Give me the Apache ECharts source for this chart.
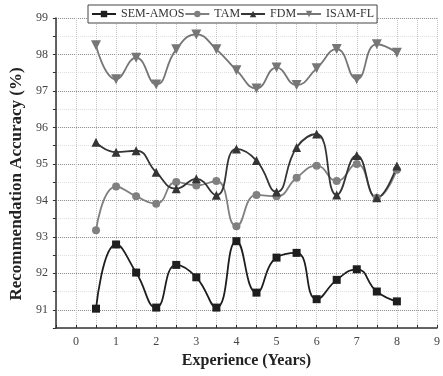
<!DOCTYPE html>
<html><head><meta charset="utf-8">
<script src="https://cdn.jsdelivr.net/npm/echarts@6/dist/echarts.min.js"></script>
<style>html,body{margin:0;padding:0;background:#fff}#c{width:443px;height:376px}</style>
</head><body><div id="c"></div>
<script>
const experience = [0.5,1,1.5,2,2.5,3,3.5,4,4.5,5,5.5,6,6.5,7,7.5,8];
const semAmos = [91.03,92.79,92.02,91.06,92.23,91.89,91.06,92.88,91.47,92.43,92.56,91.29,91.82,92.11,91.50,91.23];
const tam     = [93.18,94.38,94.11,93.91,94.50,94.41,94.53,93.29,94.15,94.11,94.62,94.95,94.53,95.00,94.07,94.84];
const fdm     = [95.59,95.32,95.36,94.77,94.32,94.59,94.14,95.41,95.09,94.23,95.45,95.82,94.15,95.23,94.07,94.94];
const isamFl  = [98.25,97.32,97.91,97.18,98.14,98.55,98.14,97.57,97.07,97.64,97.16,97.62,98.15,97.32,98.28,98.05];
const seriesNames = ['SEM-AMOS','TAM','FDM','ISAM-FL'];

const font = '"Liberation Serif","Times New Roman",serif';
const pair = arr => experience.map((x,i)=>[x,arr[i]]);
const isInt = v => Math.abs(v-Math.round(v))<1e-6;
function mk(name, data, color, symbol, size, rot){
  return {name, type:'line', data:pair(data), smooth:0.5, symbol, symbolSize:size, symbolRotate:rot||0,
    lineStyle:{color, width:1.8}, itemStyle:{color}, z: 3};
}
const chart = echarts.init(document.getElementById('c'));
chart.setOption({
  animation:false,
  textStyle:{fontFamily:font},
  grid:{left:55, right:6, top:18, bottom:48},
  legend:{top:5, left:88, data:seriesNames, itemWidth:24, itemHeight:8, itemGap:0,
    borderColor:'#444', borderWidth:1, padding:[3,3], backgroundColor:'#fff',
    textStyle:{fontFamily:font, fontSize:12, color:'#333'}},
  xAxis:{type:'value', min:-0.5, max:9, interval:0.5,
    name:'Experience (Years)', nameLocation:'middle', nameGap:14,
    nameTextStyle:{fontFamily:font, fontWeight:'bold', fontSize:16, color:'#222'},
    axisLine:{onZero:false, lineStyle:{color:'#333', width:1.5}},
    axisTick:{inside:true, length:3, lineStyle:{color:'#333'}},
    axisLabel:{fontFamily:font, fontSize:12, color:'#444', margin:8,
      formatter:v=> isInt(v) ? String(Math.round(v)) : ''},
    splitLine:{show:true, lineStyle:{color:'#c4c4c4', type:'dotted', width:1}}},
  yAxis:{type:'value', min:90.5, max:99, interval:0.5,
    name:'Recommendation Accuracy (%)', nameLocation:'middle', nameGap:30,
    nameTextStyle:{fontFamily:font, fontWeight:'bold', fontSize:17, color:'#222', padding:[0,22,0,0]},
    axisLine:{show:true, onZero:false, lineStyle:{color:'#333', width:1.5}},
    axisTick:{show:true, length:3, lineStyle:{color:'#333'}},
    axisLabel:{fontFamily:font, fontSize:12, color:'#444', margin:8,
      formatter:v=> isInt(v) ? String(Math.round(v)) : ''},
    splitLine:{show:true, lineStyle:{color:['#dedede','#8a8a8a'], type:'dotted', width:1}}},
  series:[
    mk('SEM-AMOS', semAmos, '#1e1e1e', 'rect', 8),
    mk('TAM', tam, '#808080', 'circle', 8),
    mk('FDM', fdm, '#353535', 'triangle', 9),
    mk('ISAM-FL', isamFl, '#767676', 'triangle', 10, 180)
  ]
});
</script></body></html>
